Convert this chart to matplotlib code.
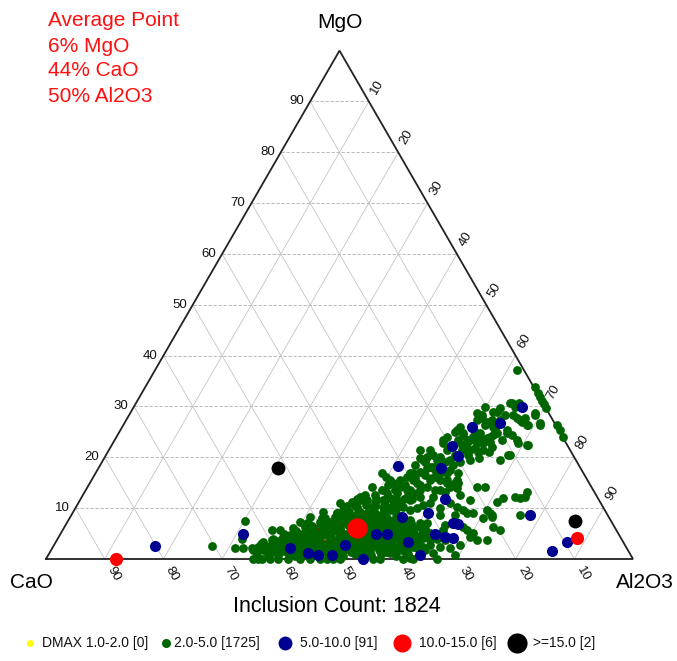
import numpy as np
import matplotlib
matplotlib.use("Agg")
import matplotlib.pyplot as plt

plt.rcParams['font.family'] = ['Liberation Sans', 'DejaVu Sans']

# ---------------- data (MgO %, Al2O3 %; CaO = 100 - MgO - Al2O3) ----------------
ticks = [10, 20, 30, 40, 50, 60, 70, 80, 90]

green_mgo = [
    37.2, 33.9, 32.7, 31.9, 31.1, 30.5, 29.7, 26.4, 24.0, 26.4, 26.4, 28.3, 28.3, 27.8, 27.4, 30.7, 30.7,
    28.9, 29.7, 29.9, 28.7, 27.8, 27.0, 26.0, 24.8, 24.0, 24.8, 24.0, 23.4, 22.8, 22.0, 25.4, 24.4, 23.4,
    22.0, 21.5, 21.1, 24.0, 22.8, 23.4, 24.8, 23.4, 22.8, 22.4, 20.5, 19.5, 21.5, 21.5, 20.5, 20.1, 19.9,
    19.5, 19.5, 18.5, 18.1, 17.9, 17.1, 16.9, 16.1, 15.6, 15.6, 15.6, 15.0, 15.0, 14.2, 14.2, 16.9, 16.1,
    15.6, 15.0, 14.2, 14.2, 13.6, 13.0, 12.0, 11.6, 12.2, 13.0, 13.6, 10.2, 9.6, 10.0, 10.6, 11.0, 12.2,
    13.6, 11.6, 10.2, 11.2, 11.0, 9.6, 9.1, 8.3, 9.1, 8.3, 9.1, 9.6, 10.2, 11.0, 10.2, 9.6, 9.1, 9.1,
    11.2, 12.0, 12.2, 12.0, 12.2, 9.6, 9.1, 8.3, 8.7, 6.3, 5.7, 3.7, 3.7, 6.3, 5.7, 5.1, 1.2, 0.0, 6.3,
    6.3, 7.1, 5.1, 3.7, 2.4, 2.4, 1.2, 6.3, 6.3, 7.7, 7.7, 7.7,
    # upper arm
    28.9, 30.7, 29.9, 27.0, 26.4, 27.8, 28.7, 26.8, 22.4, 24.4, 25.4, 20.5, 23.0, 23.8, 24.4, 21.5, 22.8,
    24.0, 26.0, 27.4, 28.3, 24.8, 22.8, 21.5, 23.4, 25.0, 26.0, 23.4, 21.5, 20.1, 18.1, 18.1, 19.5, 16.9,
    15.6, 16.1, 16.9, 14.2, 14.0, 13.2, 8.1, 25.4, 8.7,
    14.6, 15.9, 16.5, 17.5, 19.1, 20.5, 22.4, 23.4, 25.0, 26.4, 27.4, 28.3, 18.5, 19.1, 13.6, 14.6,
    13.6, 14.6, 15.9, 17.1, 17.5, 19.1, 20.5, 21.9, 23.4, 25.4, 27.4, 19.5, 19.9, 21.1,
    12.6, 12.6, 11.0, 10.6, 11.6, 12.2, 13.6, 13.2, 12.6, 11.6, 8.7, 8.7, 6.7, 10.0,
    8.1, 7.7, 7.3, 7.1, 9.3, 2.2, 2.8, 0.8,
    # left sparse part and mid points
    2.6, 2.2, 2.2, 7.5, 3.9, 1.8, 2.4, 3.3, 3.7, 5.7, 5.7, 4.3, 4.7, 5.1, 7.3, 8.3, 7.1, 5.7, 9.3, 7.3,
    9.1, 0, 0, 0, 0, 0, 0, 0, 0, 0, 0, 0, 0, 0, 0, 0, 0,
    12.2, 10.2, 11.6, 13.0, 13.6, 15.0, 14.2, 15.6, 16.9, 15.0, 15.6, 16.9, 8.7, 8.3, 4.3, 5.7, 4.3, 2.4,
    0.2, 1.8,
]
green_al = [
    61.6, 66.4, 67.5, 68.2, 69.0, 69.6, 70.3, 73.9, 76.1, 71.0, 68.9, 69.2, 65.4, 66.3, 67.0, 64.0, 65.3,
    61.7, 62.5, 59.8, 59.1, 60.4, 61.6, 63.1, 64.4, 63.6, 61.5, 60.7, 61.7, 63.0, 65.0, 57.3, 58.8, 60.0,
    60.0, 61.5, 63.1, 56.3, 56.2, 66.0, 66.1, 68.5, 69.0, 70.7, 68.8, 67.6, 53.0, 54.7, 55.7, 54.9, 53.8,
    56.9, 59.1, 60.1, 56.9, 56.0, 55.2, 54.1, 53.5, 52.5, 59.3, 60.5, 62.2, 62.7, 66.3, 67.7, 48.8, 49.8,
    50.8, 51.6, 53.2, 48.4, 50.4, 51.6, 52.6, 54.0, 55.4, 56.0, 56.9, 55.7, 57.2, 58.2, 58.9, 59.9, 59.8,
    60.3, 47.7, 47.9, 46.5, 44.6, 45.8, 46.9, 48.2, 50.7, 52.3, 52.9, 53.8, 54.7, 63.3, 64.9, 66.2, 67.2, 68.2,
    71.2, 71.9, 73.8, 74.7, 75.5, 70.3, 71.1, 71.9, 76.4, 73.0, 74.5, 71.6, 73.3, 67.9, 68.9, 70.2, 65.3, 66.6, 59.4,
    60.6, 61.4, 62.9, 63.6, 63.0, 61.3, 60.9, 57.2, 58.4, 58.2, 57.0, 56.0,
    # upper arm
    62.4, 63.7, 65.0, 67.6, 68.7, 67.7, 69.0, 70.8, 70.9, 67.2, 65.8, 68.5, 64.1, 63.2, 63.9, 63.7, 62.0,
    61.9, 59.7, 59.7, 60.2, 58.6, 60.3, 60.2, 58.5, 57.2, 57.5, 55.9, 57.6, 57.1, 56.4, 57.6, 54.5, 53.6,
    54.7, 58.6, 59.9, 61.7, 63.0, 75.3, 70.4, 74.9, 71.6,
    53.9, 54.9, 56.3, 57.5, 58.4, 59.4, 59.7, 60.6, 60.6, 61.6, 62.3, 64.0, 53.6, 55.0, 52.7, 51.0,
    55.2, 56.4, 57.8, 58.9, 60.0, 60.9, 61.6, 62.1, 63.1, 63.8, 63.6, 62.4, 63.9, 65.0,
    48.0, 49.7, 50.5, 52.5, 56.2, 57.6, 59.5, 61.4, 64.2, 66.4, 65.3, 62.7, 64.6, 62.1,
    43.5, 47.1, 50.7, 54.2, 48.9, 67.7, 69.1, 69.3,
    # left sparse part and mid points
    27.0, 31.1, 32.5, 30.1, 31.5, 34.4, 34.9, 35.3, 36.7, 35.7, 37.0, 38.2, 39.2, 40.2, 39.6, 40.8, 40.9,
    42.5, 42.5, 44.7,
    45.0, 35.3, 36.1, 36.8, 38.2, 39.5, 41.2, 43.3, 45.0, 46.7, 47.9, 48.9, 50.1, 55.7, 56.9, 60.8, 62.5,
    47.4, 50.6, 51.6, 53.3, 54.7, 55.7, 57.8, 57.6, 58.2, 60.8, 62.2, 61.8, 46.3, 47.7, 70.1, 64.8, 66.2, 65.9,
    61.9, 59.7,
]

# dense lower band of 2.0-5.0 inclusions, read row by row (MgO, Al2O3 pairs)
band_mgo = [
    0.6, 1.0, 0.7, 1.2, 0.5, 0.9, 1.1, 0.6, 1.3, 0.8, 0.5, 1.0, 1.2, 0.7, 0.9, 1.1, 0.6, 1.0,
    1.5, 1.6, 1.4, 1.5, 1.7, 1.4, 1.6, 1.5, 1.3, 1.6, 1.5, 1.4, 1.6, 1.5, 1.7, 1.4, 1.5, 1.6,
    2.1, 1.8, 2.3, 1.9, 2.2, 1.7, 2.0, 2.4, 1.8, 2.1, 2.3, 1.9, 2.0, 2.2, 1.7, 2.1, 2.4, 1.9, 2.0, 2.2, 1.8,
    2.5, 2.6, 2.4, 2.5, 2.7, 2.4, 2.6, 2.5, 2.3, 2.6, 2.5, 2.4, 2.6, 2.5, 2.7, 2.4, 2.5, 2.6,
    3.0, 3.2, 2.8, 3.1, 2.9, 3.3, 3.0, 2.7, 3.2, 3.1, 2.9, 3.0, 3.3, 2.8, 3.1, 3.0, 2.9, 3.2, 3.0, 2.8,
    3.5, 3.6, 3.4, 3.5, 3.7, 3.4, 3.6, 3.5, 3.3, 3.6, 3.5, 3.4, 3.6, 3.5, 3.7, 3.4, 3.5,
    4.0, 3.8, 4.2, 4.1, 3.9, 4.0, 4.3, 3.8, 4.1, 4.0, 3.9, 4.2, 4.0, 3.8, 4.1, 4.0, 3.9, 4.2, 4.0, 3.8,
    4.5, 4.6, 4.4, 4.5, 4.7, 4.4, 4.6, 4.5, 4.3, 4.6, 4.5, 4.4, 4.6, 4.5, 4.7, 4.4,
    5.0, 5.2, 4.9, 5.1, 4.8, 5.0, 5.3, 4.9, 5.1, 5.0, 5.2, 4.8, 5.0, 5.1, 4.9, 5.2, 5.0, 4.8,
    5.5, 5.6, 5.4, 5.5, 5.7, 5.4, 5.6, 5.5, 5.3, 5.6, 5.5, 5.4, 5.6, 5.5,
    6.0, 6.2, 5.9, 6.1, 5.8, 6.0, 6.3, 6.1, 5.9, 6.0, 6.2, 5.8, 6.1, 6.0, 5.9,
    6.5, 6.6, 6.4, 6.5, 6.7, 6.4, 6.6, 6.5, 6.3, 6.6, 6.5,
    7.0, 7.2, 6.9, 7.1, 7.0, 7.3, 6.8, 7.1, 7.0, 7.2, 6.9, 7.0, 7.1,
    7.5, 7.6, 7.4, 7.5, 7.7, 7.4, 7.6, 7.5, 7.3,
    8.0, 8.2, 7.9, 8.1, 8.0, 8.3, 7.8, 8.0, 8.2, 7.9,
    9.0, 9.2, 8.9, 9.1, 9.0, 8.8, 9.1,
    10.5, 10.4, 10.6, 10.5, 10.3, 10.6, 10.5,
    11.8, 11.7, 11.9, 11.8, 11.6, 11.9, 11.8,
]
band_al = [
    35.6, 37.4, 39.1, 40.6, 42.2, 43.4, 45.1, 46.2, 47.6, 49.1, 50.4, 52.1, 53.4, 55.1, 56.6, 58.1, 59.4, 61.2,
    35.0, 36.8, 38.3, 39.8, 41.3, 42.8, 44.2, 45.5, 47.0, 48.3, 49.8, 51.3, 52.8, 54.2, 55.8, 57.3, 58.8, 60.3,
    34.1, 36.0, 37.6, 39.1, 40.4, 42.1, 43.2, 44.6, 46.1, 47.4, 49.1, 50.2, 51.6, 53.1, 54.4, 56.1, 57.6, 59.1, 60.4, 62.1, 63.6,
    36.3, 37.8, 39.4, 40.8, 42.4, 43.8, 45.4, 46.8, 48.0, 49.5, 51.0, 52.4, 53.8, 55.3, 56.8, 58.3, 59.8, 61.3,
    35.1, 37.1, 38.6, 40.1, 41.4, 43.1, 44.6, 46.1, 47.1, 48.6, 50.1, 51.4, 53.1, 54.6, 56.1, 57.4, 59.1, 60.6, 62.1, 64.1,
    37.4, 39.0, 40.6, 42.0, 43.6, 45.0, 46.6, 48.0, 49.6, 51.0, 52.4, 54.0, 55.4, 57.0, 58.4, 60.0, 61.4,
    36.6, 38.1, 40.1, 41.6, 43.1, 44.4, 46.1, 47.6, 49.1, 50.6, 52.1, 53.1, 54.6, 56.1, 57.6, 59.1, 60.4, 62.1, 64.6, 66.1,
    38.8, 40.3, 41.8, 43.3, 44.8, 46.3, 47.8, 49.3, 50.6, 52.0, 53.4, 54.8, 56.4, 57.8, 59.3, 60.8,
    38.1, 39.6, 41.1, 42.6, 44.1, 45.6, 47.1, 48.6, 50.1, 51.1, 52.6, 54.1, 55.6, 57.1, 58.6, 60.1, 61.6, 63.1,
    39.8, 41.6, 43.1, 44.6, 46.1, 47.6, 49.1, 50.6, 52.0, 53.4, 54.8, 56.3, 57.8, 59.2,
    39.1, 41.1, 42.6, 44.1, 45.6, 47.1, 48.6, 50.1, 52.1, 53.6, 55.1, 56.6, 58.1, 59.6, 61.6,
    42.0, 43.6, 45.1, 46.6, 48.1, 49.8, 51.4, 52.9, 54.4, 56.0, 57.6,
    41.1, 43.1, 44.6, 46.1, 47.6, 49.1, 51.1, 52.6, 54.1, 55.6, 57.1, 58.6, 60.1,
    44.0, 45.6, 47.2, 48.8, 50.4, 51.8, 53.3, 54.8, 56.3,
    43.1, 45.1, 46.6, 48.1, 49.6, 51.1, 52.6, 54.1, 55.6, 57.1,
    45.1, 47.1, 48.6, 50.1, 51.6, 53.1, 55.1,
    46.0, 47.5, 49.2, 50.8, 52.3, 53.8, 55.3,
    47.0, 48.8, 50.2, 52.0, 53.5, 55.0, 56.5,
]

blue_mgo = [29.9, 26.8, 26.0, 22.2, 20.3, 18.3, 17.9, 11.8, 9.1, 8.7, 7.1, 6.9, 4.9, 4.9, 4.9, 3.3, 4.9,
            4.1, 4.3, 1.2, 0.8, 0.0, 1.6, 3.3, 8.3, 2.6, 0.8, 2.8, 2.2, 0.8]
blue_al = [66.2, 63.9, 59.6, 58.1, 60.0, 50.8, 58.3, 62.1, 60.5, 78.1, 65.8, 66.7, 31.1, 53.8, 55.6, 60.0, 63.8,
           67.3, 65.8, 44.0, 48.3, 54.0, 85.4, 87.1, 56.5, 17.3, 45.9, 49.5, 40.5, 63.3]

red_hidden_mgo = [5.7, 1.6, 3.7, 2.6]
red_hidden_al = [42.6, 42.1, 50.8, 46.0]
red_mgo = [0.0, 4.1]
red_al = [11.9, 88.4]

black_mgo = [17.9, 7.5]
black_al = [30.5, 86.4]

avg_mgo, avg_cao, avg_al = 6, 44, 50

legend_labels = ["DMAX 1.0-2.0 [0]", "2.0-5.0 [1725]", "5.0-10.0 [91]", "10.0-15.0 [6]", ">=15.0 [2]"]
legend_colors = ["#ffff00", "#006400", "#000090", "#ff0000", "#000000"]
avg_lines = ["Average Point", f"{avg_mgo}% MgO", f"{avg_cao}% CaO", f"{avg_al}% Al2O3"]
count_text = "Inclusion Count: 1824"

# ---------------- helpers ----------------
H = np.sqrt(3) / 2


def tern(mgo, al):
    mgo = np.asarray(mgo, float) / 100.0
    al = np.asarray(al, float) / 100.0
    return al + mgo / 2.0, mgo * H


fig = plt.figure(figsize=(6.77, 6.61), dpi=100)
ax = fig.add_axes([0, 0, 1, 1])
S = 587.0
ax.set_xlim(-46 / S, 631 / S)
ax.set_ylim(-102 / S, 559 / S)
ax.axis('off')

# grid
for t in ticks:
    f = t / 100.0
    ax.plot([f / 2, 1 - f / 2], [f * H, f * H], color='#b0b0b0', lw=0.6, ls=(0, (4, 2)), zorder=1)
    ax.plot([1 - f, (1 - f) / 2], [0, (1 - f) * H], color='#c4c4c4', lw=0.6, zorder=1)
    ax.plot([f, f + (1 - f) / 2], [0, (1 - f) * H], color='#c4c4c4', lw=0.6, zorder=1)

# triangle
ax.plot([0, 1, 0.5, 0], [0, 0, H, 0], color='#222222', lw=1.3, zorder=2, solid_joinstyle='miter')

# tick labels
off = 17 / S
for t in ticks:
    f = t / 100.0
    ax.text(f / 2 - 6 / S, f * H, str(t), ha='right', va='center', fontsize=9.5, color='#111111')
    xb = 1 - f
    ax.text(xb + off * 0.5, -off * H, str(t), ha='center', va='center', rotation=-60,
            fontsize=9.5, color='#111111')
    xr = 0.5 + f / 2
    yr = (1 - f) * H
    ax.text(xr + off * 0.5, yr + off * H, str(t), ha='center', va='center', rotation=60,
            fontsize=9.5, color='#111111')

# vertex labels
ax.text(0.5, (559 - 23) / S, "MgO", ha='center', va='center', fontsize=15)
ax.text((31 - 46) / S, (559 - 583) / S, "CaO", ha='center', va='center', fontsize=15)
ax.text((645 - 46) / S, (559 - 583) / S, "Al2O3", ha='center', va='center', fontsize=15)
ax.text((337 - 46) / S, (559 - 607) / S, count_text, ha='center', va='center', fontsize=15.5)

# points
x, y = tern(red_hidden_mgo, red_hidden_al)
ax.scatter(x, y, s=90, color='#ff0000', lw=0, zorder=3)
x, y = tern(band_mgo, band_al)
ax.scatter(x, y, s=40, color='#006400', lw=0, zorder=4)
x, y = tern(green_mgo, green_al)
ax.scatter(x, y, s=40, color='#006400', lw=0, zorder=4)
x, y = tern(blue_mgo, blue_al)
ax.scatter(x, y, s=64, color='#000090', lw=0, zorder=5)
x, y = tern(red_mgo, red_al)
ax.scatter(x, y, s=90, color='#ff0000', lw=0, zorder=6)
x, y = tern(black_mgo, black_al)
ax.scatter(x, y, s=100, color='#000000', lw=0, zorder=7)
x, y = tern([avg_mgo], [avg_al])
ax.scatter(x, y, s=215, color='#ff0000', lw=0, zorder=8)

# average text
for i, line in enumerate(avg_lines):
    fig.text(48 / 677, 1 - (21 + 25 * i) / 661, line, ha='left', va='center', fontsize=15, color='#ff1010')

# legend
dot_x = [30, 166, 285, 402, 517]
txt_x = [42, 174, 300, 419, 533]
dot_s = [5, 6.5, 10, 13, 14.5]
ly = 1 - 643 / 661
for dx, tx, lab, col, ms in zip(dot_x, txt_x, legend_labels, legend_colors, dot_s):
    ax.plot([dx / 677], [ly], marker='o', ms=ms, color=col, mec='none', transform=fig.transFigure,
            clip_on=False)
    fig.text(tx / 677, ly, lab, ha='left', va='center', fontsize=10, color='#111111')

fig.savefig("out.png", dpi=100)
